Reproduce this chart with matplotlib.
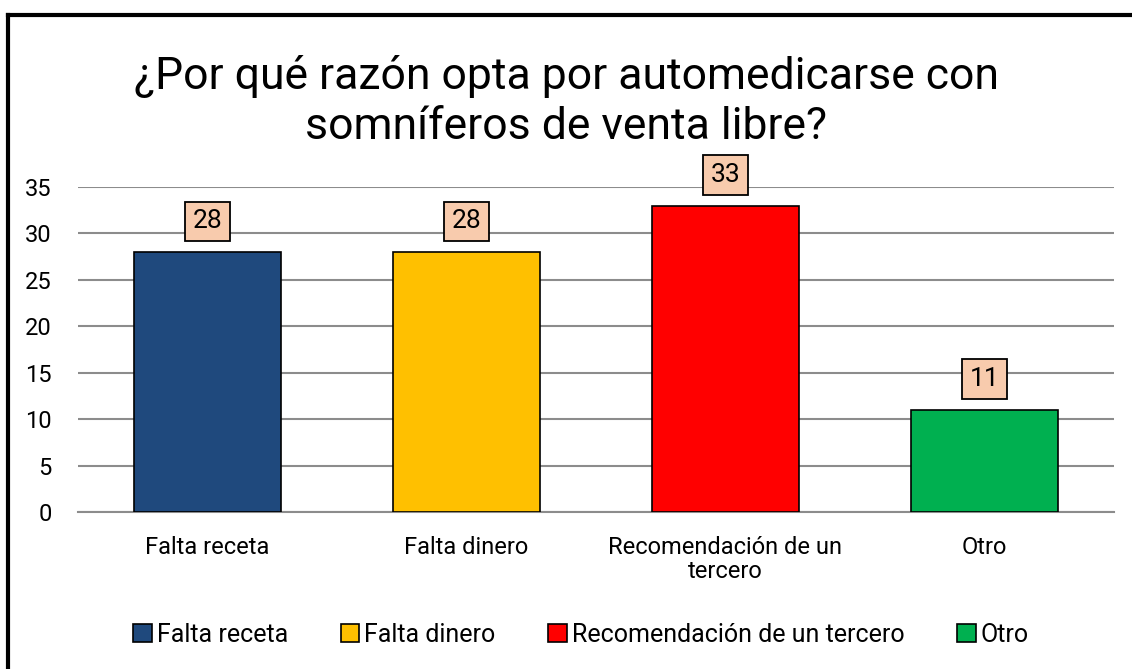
import matplotlib
matplotlib.use('Agg')
import matplotlib.pyplot as plt
from matplotlib.patches import Rectangle

plt.rcParams['font.family'] = ['Roboto', 'DejaVu Sans']

# Datos
categorias = ['Falta receta', 'Falta dinero', 'Recomendación de un tercero', 'Otro']
etiquetas_eje = ['Falta receta', 'Falta dinero', 'Recomendación de un\ntercero', 'Otro']
valores = [28, 28, 33, 11]
colores = ['#1F497D', '#FFC000', '#FF0000', '#00B050']

fig = plt.figure(figsize=(11.32, 6.69), dpi=100)
ax = fig.add_axes([78 / 1132, 1 - 512 / 669, (1114 - 78) / 1132, (512 - 187) / 669])

ax.bar(range(len(valores)), valores, width=0.571, color=colores,
       edgecolor='black', linewidth=1.2, zorder=3)

ax.set_xlim(-0.5, 3.5)
ax.set_ylim(0, 35)
ax.set_yticks(range(0, 36, 5))
ax.yaxis.grid(True, color='#8C8C8C', linewidth=1.5, zorder=0)
ax.tick_params(axis='y', length=0, labelsize=17, pad=19)
ax.tick_params(axis='x', length=0, labelsize=17, pad=17)
ax.set_xticks(range(len(valores)))
ax.set_xticklabels(etiquetas_eje, linespacing=1.1)
for s in ['top', 'right', 'left']:
    ax.spines[s].set_visible(False)
ax.spines['bottom'].set_color('#8C8C8C')
ax.spines['bottom'].set_linewidth(1.5)

# Etiquetas de valor con caja
for i, v in enumerate(valores):
    ax.annotate(str(v), (i, v), xytext=(0, 22), textcoords='offset points',
                ha='center', va='center', fontsize=19, zorder=4,
                bbox=dict(boxstyle='square,pad=0.3', facecolor='#F8CBAD',
                          edgecolor='black', linewidth=1.3))

# Título
fig.text(0.5, 0.848, '¿Por qué razón opta por automedicarse con\nsomníferos de venta libre?',
         ha='center', va='center', fontsize=32, linespacing=1.25)

# Leyenda
handles = [Rectangle((0, 0), 1, 1, facecolor=c, edgecolor='black', linewidth=1.2)
           for c in colores]
fig.legend(handles, categorias, loc='center', bbox_to_anchor=(581 / 1132, 1 - 635 / 669),
           ncol=4, frameon=False, fontsize=18, handlelength=0.75, handleheight=0.75,
           handletextpad=0.2, columnspacing=2.1)

# Borde
fig.add_artist(plt.Line2D([8 / 1132, 8 / 1132], [0, 1 - 15 / 669], color='black',
                          linewidth=3, transform=fig.transFigure))
fig.add_artist(plt.Line2D([8 / 1132, 1], [1 - 15 / 669, 1 - 15 / 669], color='black',
                          linewidth=3, transform=fig.transFigure))

fig.savefig('out.png', dpi=100)
